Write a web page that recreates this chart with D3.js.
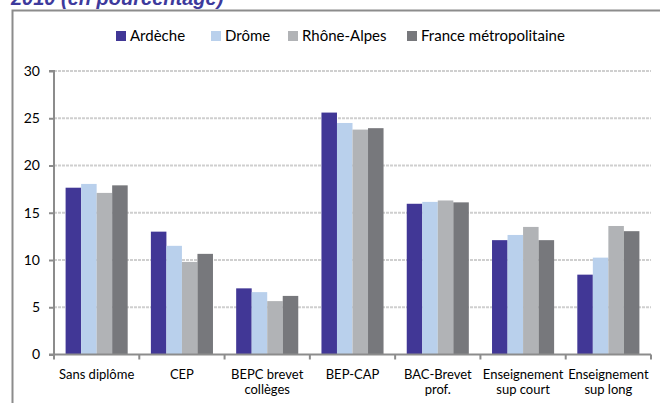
<!DOCTYPE html>
<html><head><meta charset="utf-8">
<script src="https://cdn.jsdelivr.net/npm/d3@7"></script>
<style>body{margin:0;background:#fff;}svg{display:block;}</style>
</head><body>
<svg id="c" width="660" height="403"></svg>
<script>
const categories = [["Sans diplôme"],["CEP"],["BEPC brevet","collèges"],["BEP-CAP"],["BAC-Brevet","prof."],["Enseignement","sup court"],["Enseignement","sup long"]];
const seriesNames = ["Ardèche","Drôme","Rhône-Alpes","France métropolitaine"];
const ardeche = [17.65, 13.0, 7.0, 25.6, 15.95, 12.1, 8.45];
const drome = [18.05, 11.5, 6.6, 24.5, 16.15, 12.65, 10.25];
const rhoneAlpes = [17.1, 9.8, 5.65, 23.8, 16.3, 13.5, 13.6];
const france = [17.9, 10.65, 6.2, 23.95, 16.1, 12.1, 13.05];
const yTicks = [0,5,10,15,20,25,30];
const colors = ["#413796","#b9d0ec","#b1b3b6","#77787c"];
const seriesValues = [ardeche, drome, rhoneAlpes, france];

const svg = d3.select("#c");
const F = "Lato, 'Open Sans', sans-serif";

// title (cut off at top)
svg.append("text").attr("x",11).attr("y",5)
  .attr("font-family","'Liberation Sans', sans-serif").attr("font-weight","bold").attr("font-style","italic")
  .attr("font-size",20).attr("fill","#3d3a9c").text("2010 (en pourcentage)");

// frame
svg.append("rect").attr("x",12.5).attr("y",10.5).attr("width",700).attr("height",500)
  .attr("fill","none").attr("stroke","#8c8c8c").attr("stroke-width",2);

const pL = 54, pR = 651, pT = 71, pB = 354.5;
const x0 = d3.scaleBand().domain(d3.range(categories.length)).range([pL,pR]).padding(0);
const bw = x0.bandwidth();
const x1 = d3.scaleBand().domain(d3.range(seriesNames.length)).range([bw*0.136, bw*0.864]).padding(0);
const y = d3.scaleLinear().domain([0,30]).range([pB, pT]);

// gridlines
svg.append("g").selectAll("line").data(yTicks.filter(d=>d>0)).join("line")
  .attr("x1",pL).attr("x2",pR).attr("y1",d=>y(d)).attr("y2",d=>y(d))
  .attr("stroke","#cfcfcf").attr("stroke-width",2).attr("stroke-dasharray","3,1");

// bars
const g = svg.append("g");
categories.forEach((c,i)=>{
  seriesValues.forEach((vals,s)=>{
    g.append("rect").attr("x",x0(i)+x1(s)).attr("width",x1.bandwidth())
      .attr("y",y(vals[i])).attr("height",y(0)-y(vals[i])).attr("fill",colors[s]);
  });
});

// y axis
const yAxis = d3.axisLeft(y).tickValues(yTicks).tickSize(5).tickPadding(9);
const ya = svg.append("g").attr("transform",`translate(${pL},0)`).call(yAxis);
ya.select(".domain").attr("stroke","#8c8c8c").attr("stroke-width",2).attr("d",`M-5,${pT}H0V${pB}`);
ya.selectAll(".tick line").attr("stroke","#8c8c8c").attr("stroke-width",2);
ya.selectAll(".tick text").attr("font-family",F).attr("font-size",14).attr("fill","#000");

// x axis
const xa = svg.append("g").attr("transform",`translate(0,${pB})`);
xa.append("line").attr("x1",pL-5).attr("x2",pR).attr("y1",0).attr("y2",0).attr("stroke","#8c8c8c").attr("stroke-width",2);
xa.selectAll("line.tk").data(d3.range(categories.length+1)).join("line").attr("class","tk")
  .attr("x1",d=>pL+d*bw).attr("x2",d=>pL+d*bw).attr("y1",0).attr("y2",5)
  .attr("stroke","#8c8c8c").attr("stroke-width",2);
const lab = xa.selectAll("text").data(categories).join("text")
  .attr("text-anchor","middle").attr("font-family",F).attr("font-size",13).attr("fill","#000");
lab.each(function(c,i){
  const t = d3.select(this);
  c.forEach((line,k)=>{
    t.append("tspan").attr("x",x0(i)+bw/2).attr("y",24+k*15).text(line);
  });
});

// legend
const legX = [116, 211, 288, 407];
const lg = svg.append("g");
seriesNames.forEach((n,s)=>{
  lg.append("rect").attr("x",legX[s]).attr("y",31).attr("width",10).attr("height",10).attr("fill",colors[s]);
  lg.append("text").attr("x",legX[s]+14).attr("y",41).attr("font-family",F).attr("font-size",15).attr("fill","#000").text(n);
});
</script>
</body></html>
